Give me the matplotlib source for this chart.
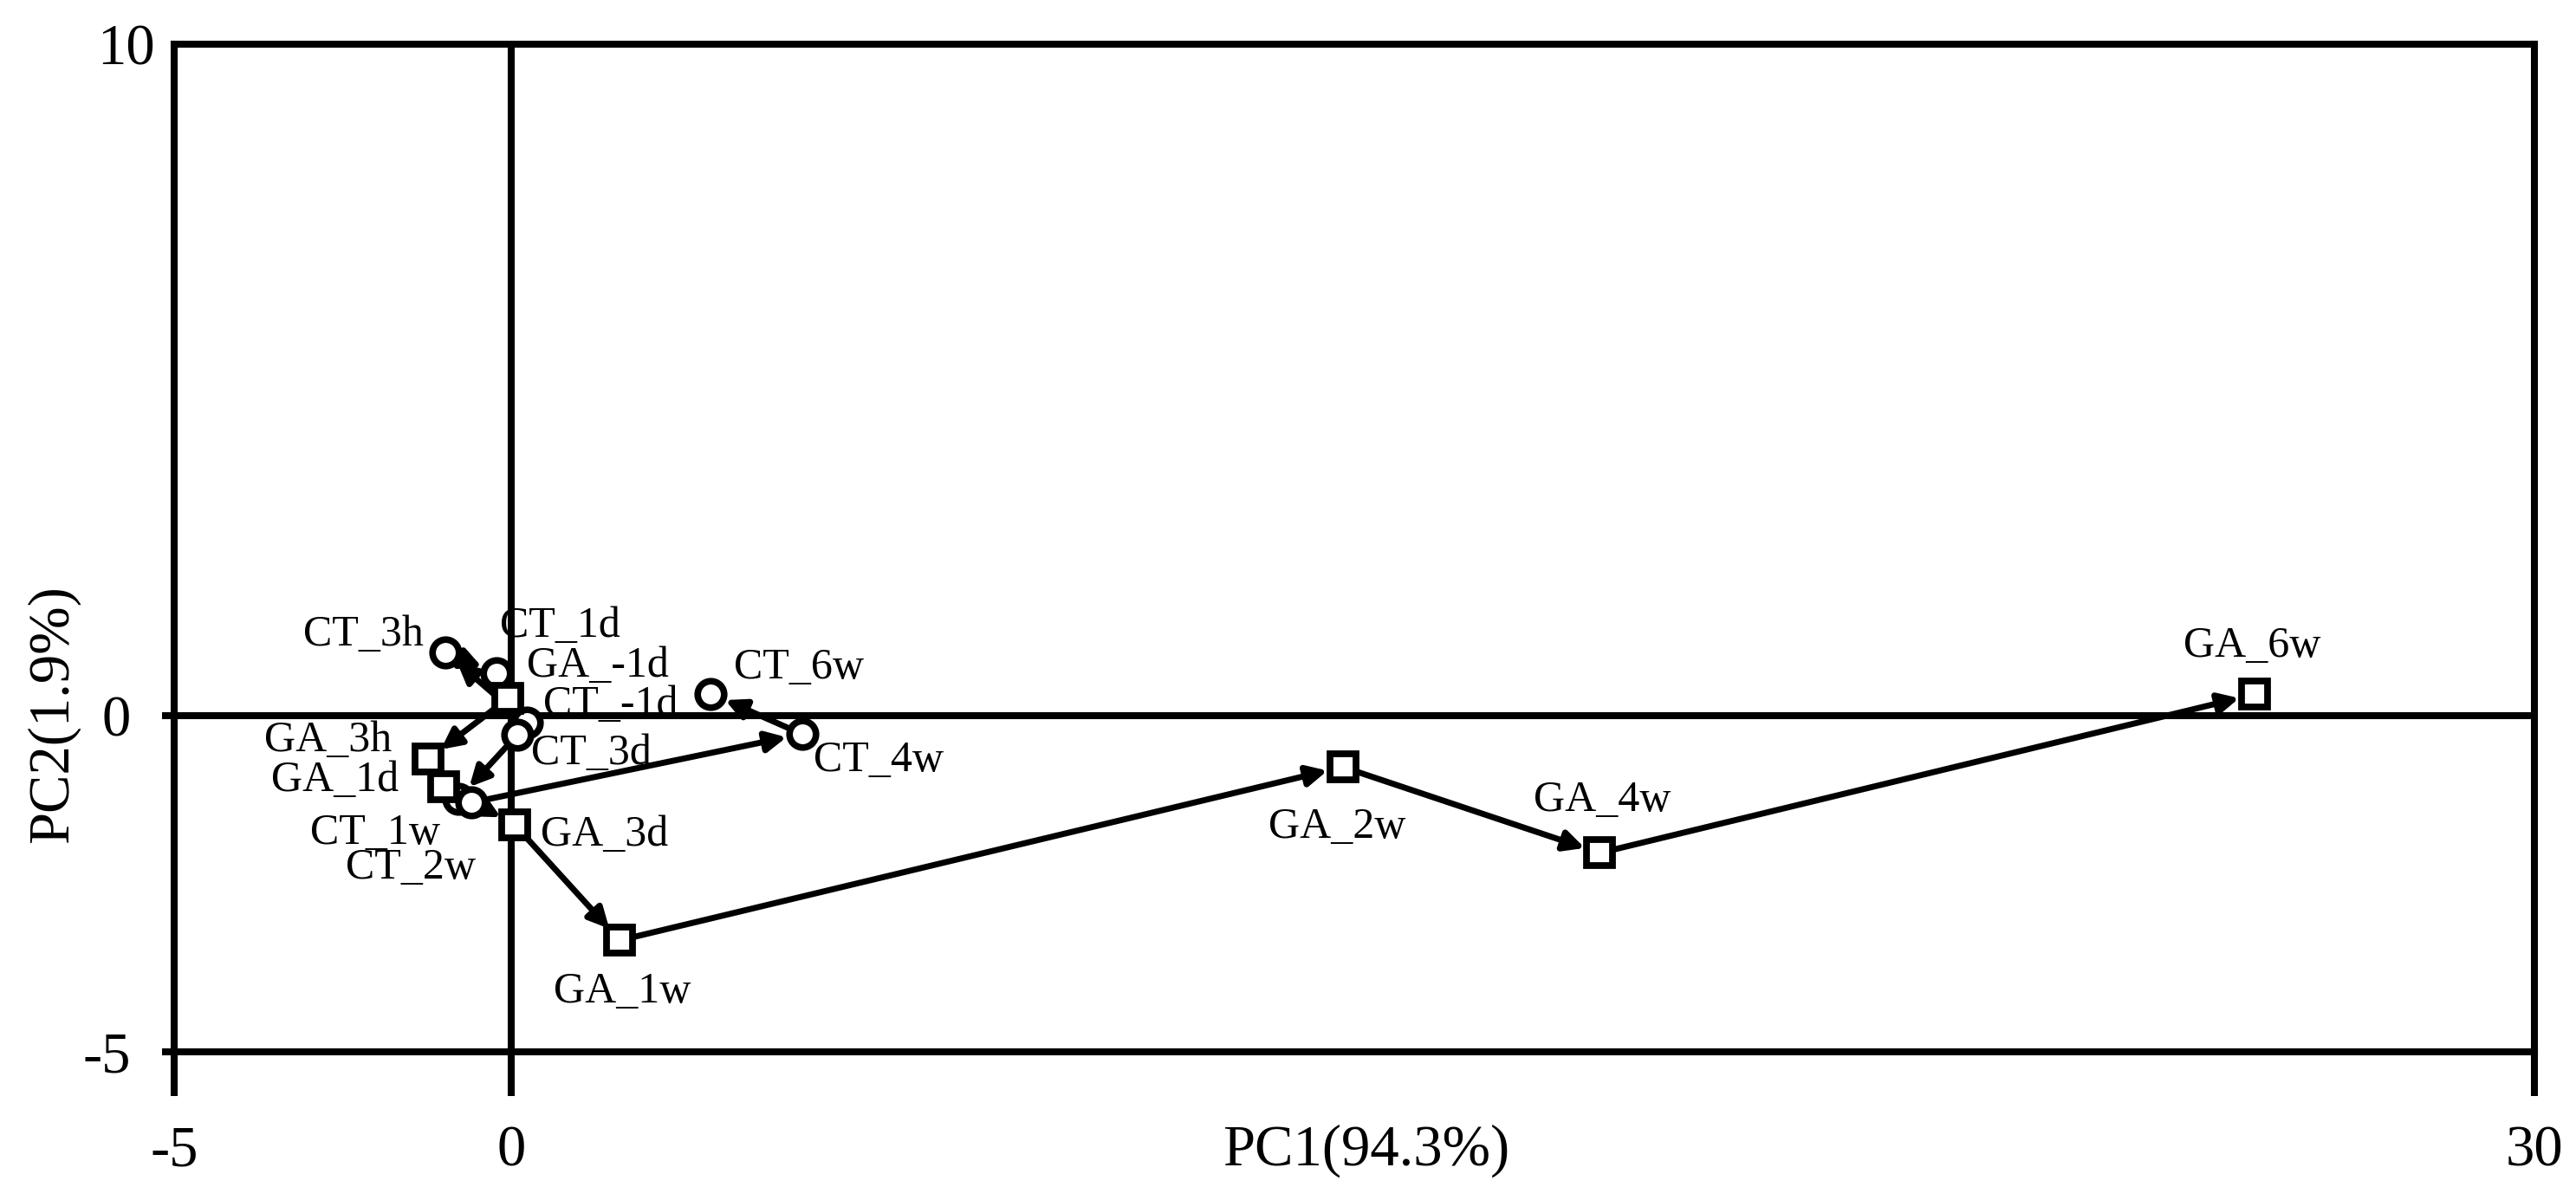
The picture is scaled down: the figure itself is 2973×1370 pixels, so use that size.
import matplotlib
matplotlib.use('Agg')
import matplotlib.pyplot as plt
from matplotlib.transforms import ScaledTranslation

plt.rcParams['font.family'] = ['Liberation Serif', 'DejaVu Serif']

# PCA scores, in time order (arrows follow this order)
ct_labels = ['CT_-1d', 'CT_3h', 'CT_1d', 'CT_3d', 'CT_1w', 'CT_2w', 'CT_4w', 'CT_6w']
ct_x = [0.23, -0.98, -0.22, 0.09, -0.78, -0.59, 4.31, 2.96]
ct_y = [-0.10, 0.95, 0.64, -0.28, -1.23, -1.29, -0.27, 0.33]

ga_labels = ['GA_-1d', 'GA_3h', 'GA_1d', 'GA_3d', 'GA_1w', 'GA_2w', 'GA_4w', 'GA_6w']
ga_x = [-0.05, -1.23, -1.00, 0.05, 1.61, 12.33, 16.14, 25.85]
ga_y = [0.26, -0.64, -1.05, -1.62, -3.34, -0.76, -2.04, 0.32]

x_ticks = [-5, 0, 30]
y_ticks = [-5, 0, 10]

# label placement: offset of text centre from the point, in pixels (right, up)
label_offsets = {
    'CT_-1d': (97, 24), 'CT_3h': (-94, 24), 'CT_1d': (73, 58), 'CT_3d': (85, -18),
    'CT_1w': (-96, -36), 'CT_2w': (-70, -72), 'CT_4w': (89, -27), 'CT_6w': (102, 34),
    'GA_-1d': (104, 41), 'GA_3h': (-116, 25), 'GA_1d': (-126, 11), 'GA_3d': (104, -8),
    'GA_1w': (3, -56), 'GA_2w': (-6, -66), 'GA_4w': (3, 64), 'GA_6w': (-3, 59),
}

fig = plt.figure(figsize=(29.73, 13.70), dpi=100)
ax = fig.add_axes([0.0676, 0.1139, 0.9162, 0.8489])

ax.axhline(0, color='black', lw=5.8, zorder=1)
ax.axvline(0, color='black', lw=5.8, zorder=1)

arrow_kw = dict(arrowstyle='-|>,head_length=0.7,head_width=0.35', mutation_scale=20,
                color='black', lw=5, shrinkA=0, shrinkB=13)
for xs, ys in [(ct_x, ct_y), (ga_x, ga_y)]:
    for i in range(len(xs) - 1):
        ax.annotate('', xy=(xs[i + 1], ys[i + 1]), xytext=(xs[i], ys[i]),
                    arrowprops=arrow_kw, zorder=3)

ax.plot(ct_x, ct_y, 'o', ls='none', ms=22, mfc='white', mec='black', mew=5.5, zorder=4)
ax.plot(ga_x, ga_y, 's', ls='none', ms=21, mfc='white', mec='black', mew=5.6, zorder=4)

for lbls, xs, ys in [(ct_labels, ct_x, ct_y), (ga_labels, ga_x, ga_y)]:
    for lbl, x, y in zip(lbls, xs, ys):
        dx, dy = label_offsets[lbl]
        ax.annotate(lbl, (x, y), xytext=(dx * 0.72, (dy - 16) * 0.72),
                    textcoords='offset points', ha='center', va='baseline',
                    fontsize=36, zorder=5)

ax.set_xlim(-5, 30)
ax.set_ylim(-5, 10)
ax.set_xticks(x_ticks)
ax.set_yticks(y_ticks)
ax.set_xticklabels([str(t) for t in x_ticks])
ax.set_yticklabels([str(t) for t in y_ticks])
ax.tick_params(axis='x', direction='out', length=37, width=5.8, pad=24, labelsize=48)
ax.tick_params(axis='y', direction='out', length=10, width=5.8, pad=26, labelsize=48)
ax.yaxis.get_major_ticks()[2].tick1line.set_visible(False)

# the "10" label sits closer to the axis in the original
lab10 = ax.get_yticklabels()[2]
lab10.set_transform(lab10.get_transform() + ScaledTranslation(20 / 72, 0, fig.dpi_scale_trans))

for sp in ax.spines.values():
    sp.set_linewidth(5.8)
    sp.set_color('black')

ax.set_xlabel('PC1(94.3%)', fontsize=48)
ax.xaxis.set_label_coords(0.505, -0.0716)
ax.set_ylabel('PC2(1.9%)', fontsize=48)
ax.yaxis.set_label_coords(-0.040, 0.335)

fig.savefig('out.png', dpi=100)
